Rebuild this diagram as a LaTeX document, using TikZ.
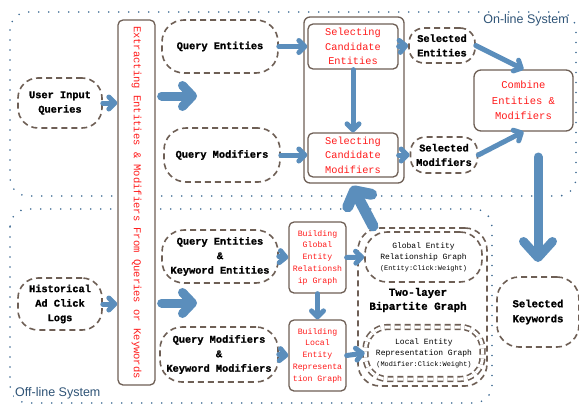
\documentclass[tikz,border=0pt]{standalone}
\usepackage{fontspec}
\setmonofont[BoldFeatures={FakeBold=1.2}]{Liberation Mono}
\newfontfamily\lblfont{Liberation Sans}
\usetikzlibrary{arrows.meta}
\definecolor{brn}{HTML}{6E5F55}
\definecolor{abl}{HTML}{5B8EBC}
\definecolor{dotb}{HTML}{3D6A93}
\definecolor{lbl}{HTML}{2E5376}
\definecolor{rd}{HTML}{FF1A1A}
\begin{document}
\begin{tikzpicture}[x=1pt,y=-1pt,
 dnode/.style={draw=brn, line width=1.6pt, dash pattern=on 6pt off 4pt, rounded corners=18pt, inner sep=0pt, align=center, font=\ttfamily\bfseries\fontsize{10.3}{14.5}\selectfont, fill=white},
 snode/.style={draw=brn, line width=1.3pt, rounded corners=5pt, inner sep=0pt, align=center, text=rd, font=\ttfamily\fontsize{10.3}{14.5}\selectfont, fill=white},
 smallred/.style={font=\ttfamily\fontsize{8.2}{11.7}\selectfont},
 smallblk/.style={font=\ttfamily\fontsize{8}{11}\selectfont},
 arr/.style={draw=abl, line width=5pt, line cap=round, -{Straight Barb[length=6pt,width=12pt,round]}},
 bigarr/.style={draw=abl, line width=9pt, line cap=round, -{Straight Barb[length=10pt,width=21pt,round]}},
 hugearr/.style={draw=abl, line width=9pt, line cap=round, -{Straight Barb[length=16pt,width=29pt,round]}},
 region/.style={draw=dotb, line width=1.8pt, line cap=round, dash pattern=on 0pt off 10pt, rounded corners=18pt},
 syslabel/.style={font=\lblfont\fontsize{12.5}{14}\selectfont, text=lbl, inner sep=1pt},
]
\useasboundingbox (0,0) rectangle (579,405);
% regions
\draw[region] (10,12) rectangle (576,196);
\draw[region] (10,209) rectangle (492,403);
\node (onl) [syslabel, anchor=east] at (570,20) {On-line System};
\node (offl) [syslabel, anchor=west, fill=white] at (14,393) {Off-line System};

% nodes
\node (ext) [snode, minimum width=37pt, minimum height=365pt,
  label={[rotate=-90, text=rd, font=\ttfamily\fontsize{10.5}{12}\selectfont]center:Extracting Entities \& Modifiers From Queries or Keywords}] at (136.5,202.5) {};
\node (uiq) [dnode, minimum width=84pt, minimum height=50pt, rounded corners=20pt] at (60,103) {User Input\\Queries};
\node (hac) [dnode, minimum width=84pt, minimum height=52pt, rounded corners=20pt] at (60,304) {Historical\\Ad Click\\Logs};
\node (qe) [dnode, minimum width=116pt, minimum height=53pt, rounded corners=22pt] at (220,46.5) {Query Entities};
\node (qm) [dnode, minimum width=116pt, minimum height=54pt, rounded corners=22pt] at (222,155) {Query Modifiers};
\node (qke) [dnode, minimum width=116pt, minimum height=53pt, rounded corners=22pt] at (220,256.5) {Query Entities\\\&\\Keyword Entities};
\node (qkm) [dnode, minimum width=118pt, minimum height=55pt, rounded corners=22pt] at (219,354.5) {Query Modifiers\\\&\\Keyword Modifiers};

\node (selbox) [draw=brn, line width=1.3pt, rounded corners=6pt, minimum width=100pt, minimum height=166pt, inner sep=0pt, fill=white] at (354,100) {};
\node (sce) [snode, minimum width=90pt, minimum height=45pt] at (353,46.5) {Selecting\\Candidate\\Entities};
\node (scm) [snode, minimum width=90pt, minimum height=44pt] at (353,155) {Selecting\\Candidate\\Modifiers};
\node (se) [dnode, minimum width=66pt, minimum height=35pt, rounded corners=15pt] at (442,45.5) {Selected\\Entities};
\node (sm) [dnode, minimum width=67pt, minimum height=36pt, rounded corners=15pt] at (444,155) {Selected\\Modifiers};
\node (comb) [snode, minimum width=99pt, minimum height=61pt, rounded corners=7pt, font=\ttfamily\fontsize{10.5}{15.5}\selectfont] at (523.5,100.5) {Combine\\Entities \&\\Modifiers};
\node (skw) [dnode, minimum width=82pt, minimum height=70pt, rounded corners=22pt, font=\ttfamily\bfseries\fontsize{10.6}{15}\selectfont] at (538,312) {Selected\\Keywords};

\node (bg) [snode, smallred, minimum width=57pt, minimum height=71pt] at (317.5,257.5) {Building\\Global\\Entity\\Relationsh\\ip Graph};
\node (bl) [snode, smallred, minimum width=57pt, minimum height=71pt] at (317.5,355.5) {Building\\Local\\Entity\\Representa\\tion Graph};
\node (tl) [dnode, minimum width=129pt, minimum height=158pt, rounded corners=22pt] at (422.5,307) {};
\node (geg) [dnode, smallblk, minimum width=117pt, minimum height=50pt, rounded corners=22pt] at (423.5,257) {Global Entity\\Relationship Graph\\{\fontsize{6.9}{11}\selectfont(Entity:Click:Weight)}};
\node (leg) [dnode, smallblk, double=white, double distance=3pt, minimum width=117pt, minimum height=52pt, rounded corners=22pt] at (424,353) {Local Entity\\Representation Graph\\{\fontsize{6.9}{11}\selectfont(Modifier:Click:Weight)}};
\node (two) [font=\ttfamily\bfseries\fontsize{10.8}{14}\selectfont, align=center] at (418,300) {Two-layer\\Bipartite Graph};

% small arrows
\draw[arr] (uiq.east) -- (uiq.east -| ext.west);
\draw[arr] (hac.east) -- (hac.east -| ext.west);
\draw[arr] (qe.east) -- (sce.west);
\draw[arr] (qm.east) -- (scm.west);
\draw[arr] (sce.south) -- (scm.north);
\draw[arr] (sce.east) -- (se.west);
\draw[arr] (scm.east) -- (sm.west);
\draw[arr] (se.east) -- (comb.north);
\draw[arr] (sm.east) -- (comb.south);
\draw[arr] (qke.east) -- (bg.west);
\draw[arr] (qkm.east) -- (bl.west);
\draw[arr] (bg.south) -- (bl.north);
\draw[arr] (bg.east) -- (geg.west);
\draw[arr] (bl.east) -- (leg.west);

% big arrows
\coordinate (t1) at (197,96);
\coordinate (t2) at (197,303);
\draw[bigarr] ([xshift=6pt]t1 -| ext.east) -- (t1);
\draw[bigarr] ([xshift=6pt]t2 -| ext.east) -- (t2);
\coordinate (d0) at (538,157);
\coordinate (d1) at (538,262);
\draw[hugearr] (d0) -- (d1);
\coordinate (u0) at (373,226);
\coordinate (u1) at (352,186);
\draw[draw=abl, line width=11pt, line cap=round, -{Straight Barb[length=11pt,width=27pt,round]}] (u0) -- (u1);
\end{tikzpicture}
\end{document}
